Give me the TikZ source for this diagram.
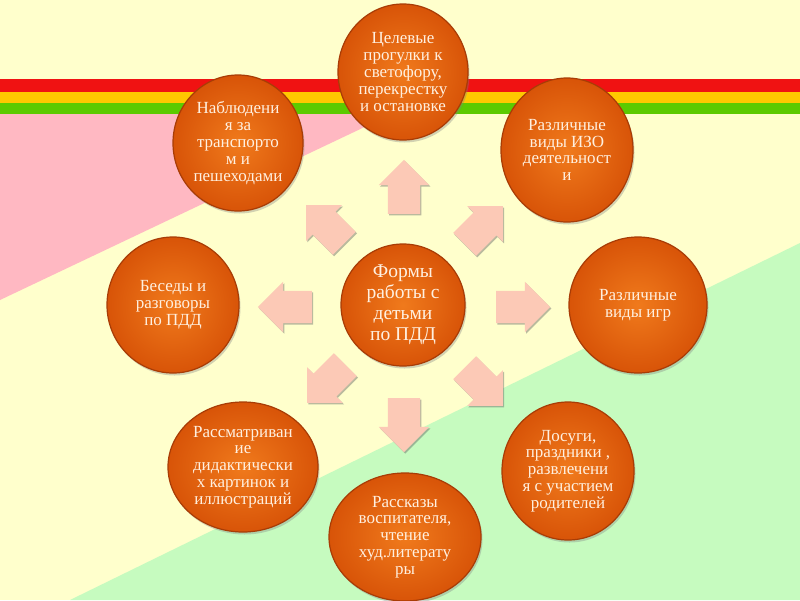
\documentclass[tikz,border=0pt]{standalone}
\usepackage{fontspec}
\setmainfont{Liberation Serif}
\usepackage{tikz}
\usetikzlibrary{shapes.geometric,shapes.arrows,shadows}

\definecolor{bgcream}{HTML}{FFFFCC}
\definecolor{bgpink}{HTML}{FFB8C2}
\definecolor{bggreen}{HTML}{C6FBBF}
\definecolor{stripered}{HTML}{F01212}
\definecolor{stripeyel}{HTML}{FFC800}
\definecolor{stripegrn}{HTML}{5CCA00}
\definecolor{discin}{HTML}{F07A1C}
\definecolor{discout}{HTML}{D85408}
\definecolor{discrim}{HTML}{A83C06}
\definecolor{disctext}{HTML}{FFF0E0}
\definecolor{arrowfill}{HTML}{FCC9B6}

\begin{document}
\begin{tikzpicture}[x=1pt, y=-1pt,
	disc/.style={ellipse, inner sep=0pt, shade, inner color=discin, outer color=discout,
		draw=discrim, line width=1.2pt, text=disctext, align=center,
		font=\fontsize{17}{16.8}\selectfont,
		drop shadow={shadow xshift=1.5pt, shadow yshift=-2.5pt, opacity=0.35}},
	blockarrow/.style={single arrow, single arrow head extend=9pt, single arrow tip angle=90,
		inner xsep=0pt, inner ysep=16pt, minimum height=54pt, fill=arrowfill,
		drop shadow={shadow xshift=1.2pt, shadow yshift=-1.5pt, opacity=0.45, fill=black!60}}]

% ---- fond ----
\useasboundingbox (0,0) rectangle (800,600);
\fill[bgcream] (0,0) rectangle (800,600);
\fill[bgpink] (0,114) -- (392,114) -- (0,300) -- cycle;
\fill[bggreen] (800,243) -- (800,600) -- (70,600) -- cycle;
\fill[stripered] (0,79) rectangle (800,92);
\fill[stripeyel] (0,92) rectangle (800,103);
\fill[stripegrn] (0,103) rectangle (800,114);

% ---- fleches ----
\foreach \nm/\px/\py/\ang in {aup/404/195/90, adown/404/417/-90, aleft/293/307/180,
		aright/515/307/0, aupleft/331/230/135, aupright/478/231/45,
		adownleft/332/378/-135, adownright/478/381/-45}
	\node[blockarrow, rotate=\ang] (\nm) at (\px,\py) {};

% ---- ellipses ----
\node[disc, minimum width=130pt, minimum height=136pt] (walks) at (403,72)
	{Целевые\\прогулки к\\светофору,\\перекрестку\\и остановке};
\node[disc, minimum width=130pt, minimum height=136pt] (watch) at (238,143)
	{Наблюдени\\я за\\транспорто\\м и\\пешеходами};
\node[disc, minimum width=132pt, minimum height=144pt] (art) at (567,150)
	{Различные\\виды ИЗО\\деятельност\\и};
\node[disc, minimum width=124pt, minimum height=122pt,
	font=\fontsize{19.5}{21}\selectfont] (forms) at (403,305)
	{Формы\\работы с\\детьми\\по ПДД};
\node[disc, minimum width=132pt, minimum height=136pt] (talks) at (173,305)
	{Беседы и\\разговоры\\по ПДД};
\node[disc, minimum width=138pt, minimum height=136pt] (games) at (638,305)
	{Различные\\виды игр};
\node[disc, minimum width=150pt, minimum height=130pt] (pics) at (243,467)
	{Рассматриван\\ие\\дидактически\\х картинок и\\иллюстраций};
\node[disc, minimum width=132pt, minimum height=138pt] (fests) at (568,471)
	{Досуги,\\праздники ,\\развлечени\\я с участием\\родителей};
\node[disc, minimum width=152pt, minimum height=128pt] (tales) at (405,537)
	{Рассказы\\воспитателя,\\чтение\\худ.литерату\\ры};
\end{tikzpicture}
\end{document}
